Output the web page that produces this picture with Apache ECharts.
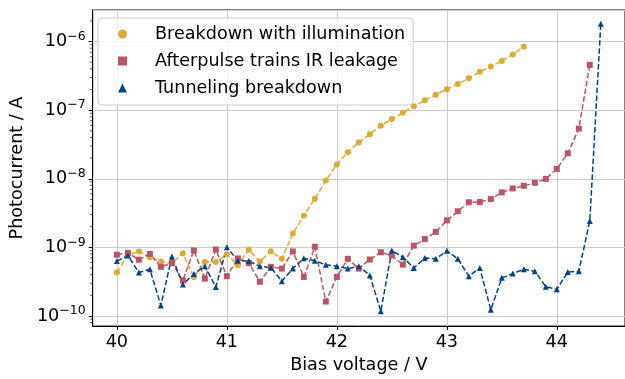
<!DOCTYPE html>
<html>
<head>
<meta charset="utf-8">
<script src="https://cdn.jsdelivr.net/npm/echarts@6/dist/echarts.min.js"></script>
<style>html,body{margin:0;padding:0;background:#fff;}#c{width:625px;height:379px;}</style>
</head>
<body>
<div id="c"></div>
<script>
const voltages = [40.0,40.1,40.2,40.3,40.4,40.5,40.6,40.7,40.8,40.9,
  41.0,41.1,41.2,41.3,41.4,41.5,41.6,41.7,41.8,41.9,
  42.0,42.1,42.2,42.3,42.4,42.5,42.6,42.7,42.8,42.9,
  43.0,43.1,43.2,43.3,43.4,43.5,43.6,43.7,43.8,43.9,
  44.0,44.1,44.2,44.3,44.4];
const illumination = [4.3e-10,7.8e-10,8.7e-10,7.2e-10,6.2e-10,5.8e-10,8.2e-10,3.7e-10,6.1e-10,6.1e-10,
  7.9e-10,5.5e-10,9.2e-10,6.2e-10,8.8e-10,6.8e-10,1.59e-9,2.9e-9,5.1e-9,9.4e-9,
  1.62e-8,2.43e-8,3.39e-8,4.46e-8,5.94e-8,7.41e-8,9.14e-8,1.14e-7,1.39e-7,1.68e-7,
  2.02e-7,2.41e-7,2.91e-7,3.63e-7,4.33e-7,5.21e-7,6.5e-7,8.38e-7];
const afterpulse = [7.8e-10,8.3e-10,6.6e-10,8.0e-10,5.2e-10,5.9e-10,3.3e-10,9.0e-10,3.5e-10,9.3e-10,
  3.8e-10,6.9e-10,5.9e-10,3.15e-10,5.2e-10,4.9e-10,8.7e-10,3.7e-10,1.02e-9,1.62e-10,
  3.7e-10,6.8e-10,4.9e-10,6.65e-10,8.5e-10,7.6e-10,5.6e-10,1.06e-9,1.32e-9,1.68e-9,
  2.47e-9,3.36e-9,4.54e-9,4.58e-9,5.06e-9,6.33e-9,7.23e-9,7.9e-9,8.73e-9,9.96e-9,
  1.39e-8,2.35e-8,5.38e-8,4.57e-7];
const tunneling = [6.3e-10,7.6e-10,4.3e-10,4.8e-10,1.42e-10,7.35e-10,2.88e-10,4.1e-10,5.3e-10,2.64e-10,
  1.0e-9,6.4e-10,6.3e-10,5.3e-10,5.06e-10,3.2e-10,4.9e-10,6.95e-10,6.37e-10,5.58e-10,
  5.3e-10,4.9e-10,5.3e-10,3.9e-10,1.17e-10,9.0e-10,7.2e-10,5.0e-10,7.0e-10,6.8e-10,
  8.9e-10,6.8e-10,3.8e-10,5.0e-10,1.23e-10,3.59e-10,4.14e-10,4.78e-10,4.48e-10,2.67e-10,
  2.44e-10,4.38e-10,4.48e-10,2.42e-9,1.82e-6];
const seriesNames = ['Breakdown with illumination','Afterpulse trains IR leakage','Tunneling breakdown'];
const xTicks = [40,41,42,43,44];

const X_MIN = 39.78, X_MAX = 44.62;
const Y_MIN = Math.pow(10,-10.148), Y_MAX = Math.pow(10,-5.54);
const FONT = 'DejaVu Sans';
const FS = 17.6;

function pairs(vals){ return vals.map((v,i)=>[voltages[i], v]); }

const minorVals = [];
for (let e=-11; e<=-6; e++) for (let k=2; k<=9; k++) {
  const v = k*Math.pow(10,e);
  if (v > Y_MIN && v < Y_MAX) minorVals.push(v);
}

const dash = [5.5, 2.4];
function lineSeries(name, data, color, symbol, size){
  return {
    name, type:'line', data, symbol, symbolSize:size, showSymbol:true,
    lineStyle:{color, width:1.5, type:dash},
    itemStyle:{color, borderWidth:0},
    emphasis:{disabled:true}, animation:false, z:3
  };
}

const chart = echarts.init(document.getElementById('c'), null, {renderer:'canvas'});
chart.setOption({
  animation:false,
  backgroundColor:'#fff',
  textStyle:{fontFamily:FONT},
  grid:{left:89, top:10, right:-4, bottom:48, show:true, borderColor:'#000', borderWidth:1, backgroundColor:'transparent'},
  legend:{
    data:[{name:seriesNames[0], icon:'circle'},{name:seriesNames[1], icon:'rect'},{name:seriesNames[2], icon:'triangle'}],
    orient:'vertical', left:98, top:18,
    itemWidth:9, itemHeight:9, itemGap:7,
    padding:[6,8,7,20],
    backgroundColor:'rgba(255,255,255,0.8)', borderColor:'#cccccc', borderWidth:1, borderRadius:4,
    textStyle:{fontFamily:FONT, fontSize:FS, color:'#000', lineHeight:20, padding:[0,0,0,23]},
    selectedMode:false
  },
  xAxis:{
    type:'value', min:X_MIN, max:X_MAX,
    name:'Bias voltage / V', nameLocation:'middle', nameGap:28,
    nameTextStyle:{fontFamily:FONT, fontSize:FS, color:'#000'},
    axisLine:{show:true, onZero:false, lineStyle:{color:'#000', width:1}},
    axisTick:{show:true, length:4, lineStyle:{color:'#000'}, customValues:xTicks},
    axisLabel:{fontFamily:FONT, fontSize:FS, color:'#000', margin:7, customValues:xTicks},
    splitLine:{show:true, lineStyle:{color:'#cbcbcb', width:1}}
  },
  yAxis:{
    type:'log', logBase:10, min:Y_MIN, max:Y_MAX,
    name:'Photocurrent / A', nameLocation:'middle', nameGap:59, nameRotate:90,
    nameTextStyle:{fontFamily:FONT, fontSize:FS, color:'#000'},
    axisLine:{show:true, lineStyle:{color:'#000', width:1}},
    axisTick:{show:true, length:4, lineStyle:{color:'#000'}},
    axisLabel:{
      fontFamily:FONT, fontSize:FS, color:'#000', margin:7,
      showMinLabel:false, showMaxLabel:false,
      formatter:(v)=>{ const e = Math.round(Math.log10(v)); return '{b|10}{s|' + (e<0?'\u2212':'') + Math.abs(e) + '}'; },
      rich:{b:{fontFamily:FONT, fontSize:FS, color:'#000'}, s:{fontFamily:FONT, fontSize:12.5, color:'#000', padding:[0,0,10,0]}}
    },
    splitLine:{show:true, lineStyle:{color:'#cbcbcb', width:1}}
  },
  series:[
    lineSeries(seriesNames[0], pairs(illumination), '#DDAA33', 'circle', 6),
    lineSeries(seriesNames[1], pairs(afterpulse), '#BB5566', 'rect', 6),
    lineSeries(seriesNames[2], pairs(tunneling), '#004488', 'triangle', 6),
    {
      type:'custom', silent:true, clip:false, z:5, animation:false,
      data: minorVals.map(v=>[X_MIN, v]),
      renderItem:(p, api)=>{
        const pt = api.coord([api.value(0), api.value(1)]);
        return {type:'line', shape:{x1:pt[0]-2.5, y1:pt[1], x2:pt[0], y2:pt[1]}, style:{stroke:'#000', lineWidth:0.7}};
      }
    }
  ]
});
</script>
</body>
</html>
